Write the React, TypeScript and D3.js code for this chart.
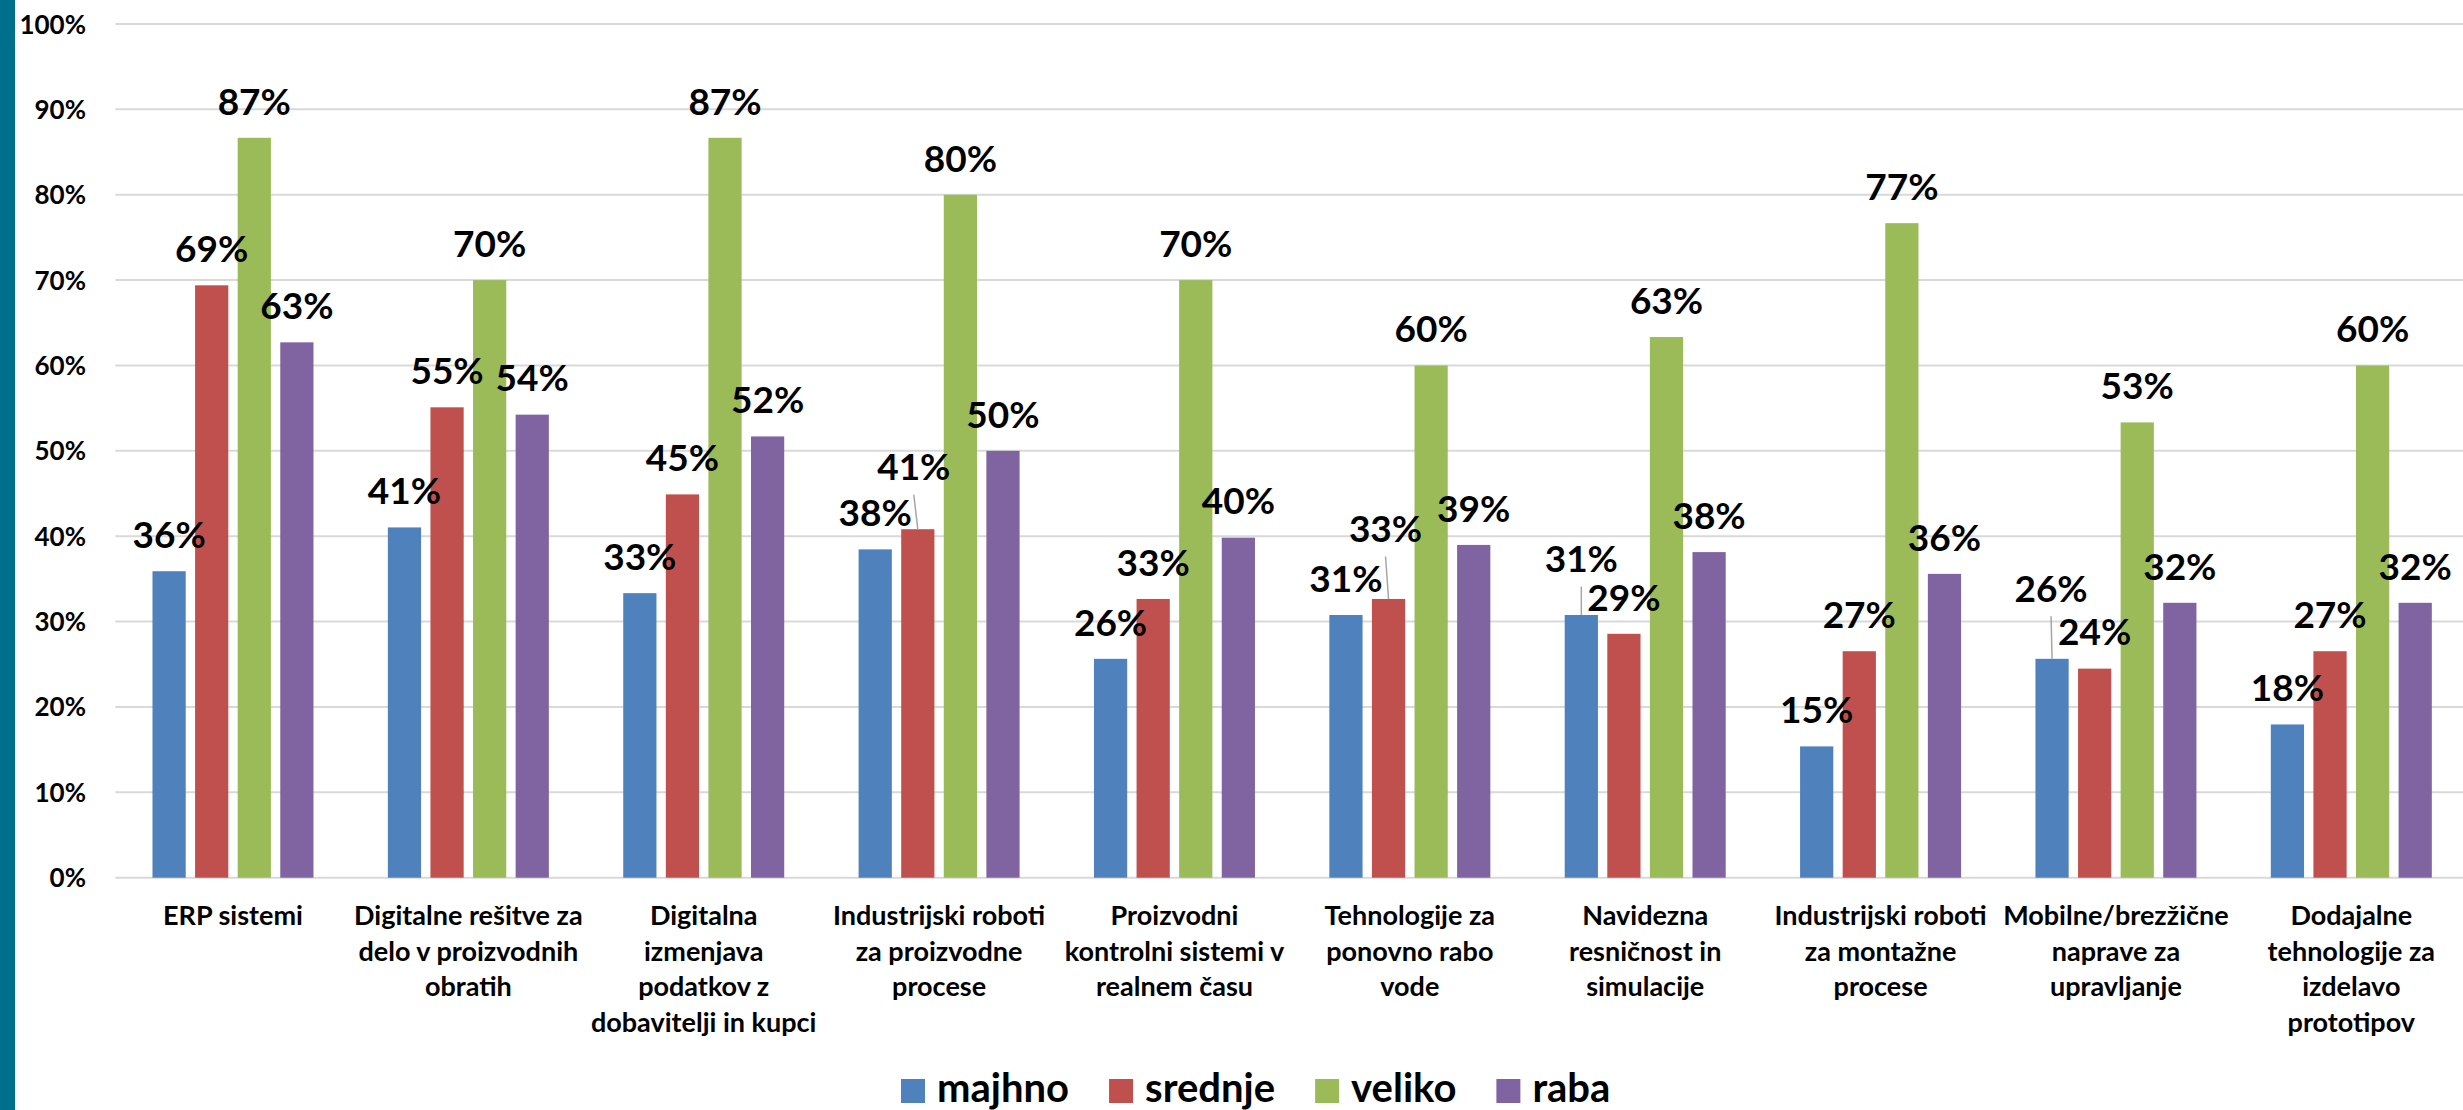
import React from "react";
import * as d3 from "d3";

const categories: string[][] = [
  ["ERP sistemi"],
  ["Digitalne rešitve za", "delo v proizvodnih", "obratih"],
  ["Digitalna", "izmenjava", "podatkov z", "dobavitelji in kupci"],
  ["Industrijski roboti", "za proizvodne", "procese"],
  ["Proizvodni", "kontrolni sistemi v", "realnem času"],
  ["Tehnologije za", "ponovno rabo", "vode"],
  ["Navidezna", "resničnost in", "simulacije"],
  ["Industrijski roboti", "za montažne", "procese"],
  ["Mobilne/brezžične", "naprave za", "upravljanje"],
  ["Dodajalne", "tehnologije za", "izdelavo", "prototipov"],
];

const seriesNames = ["majhno", "srednje", "veliko", "raba"];
const seriesColors = ["#4F81BD", "#C0504D", "#9BBB59", "#8064A2"];

const majhno = [35.9, 41.03, 33.33, 38.46, 25.64, 30.77, 30.77, 15.38, 25.64, 17.95];
const srednje = [69.39, 55.1, 44.9, 40.82, 32.65, 32.65, 28.57, 26.53, 24.49, 26.53];
const veliko = [86.67, 70.0, 86.67, 80.0, 70.0, 60.0, 63.33, 76.67, 53.33, 60.0];
const raba = [62.71, 54.24, 51.69, 50.0, 39.83, 38.98, 38.14, 35.59, 32.2, 32.2];

const yTicks = [0, 10, 20, 30, 40, 50, 60, 70, 80, 90, 100];

// label nudges (category index, series index, dx, dy) for labels moved with leader lines
const labelNudges: [number, number, number, number][] = [
  [3, 1, -4, -26],
  [5, 1, -3, -34],
  [6, 0, 0, -20],
  [8, 0, -1, -34],
];

const FONT = "Lato, 'Open Sans', 'DejaVu Sans', sans-serif";

function measure(text: string, font: string): number {
  const c = document.createElement("canvas");
  const ctx = c.getContext("2d");
  if (!ctx) return text.length * 20;
  ctx.font = font;
  return ctx.measureText(text).width;
}

export default function App() {
  const W = 2463;
  const H = 1110;
  const series = [majhno, srednje, veliko, raba];
  const keys = categories.map((c) => c.join(" "));

  const x0 = d3
    .scaleBand<string>()
    .domain(keys)
    .range([115.3, 2469])
    .paddingInner(0.316)
    .paddingOuter(0.158);
  const x1 = d3
    .scaleBand<string>()
    .domain(seriesNames)
    .range([0, x0.bandwidth()])
    .paddingInner(0.22)
    .paddingOuter(0);
  const y = d3.scaleLinear().domain([0, 100]).range([877.7, 24]);

  // legend layout
  const legendFont = `bold 40px ${FONT}`;
  let lx = 901;
  const legendItems = seriesNames.map((name, i) => {
    const item = { name, color: seriesColors[i], x: lx };
    lx += 36 + measure(name, legendFont) + 40;
    return item;
  });

  return (
    <div style={{ position: "absolute", left: 0, top: 0 }}>
      <svg width={W} height={H} style={{ display: "block", background: "#fff" }}>
        <rect x={0} y={0} width={W} height={H} fill="#ffffff" />
        <rect x={0} y={0} width={15} height={H} fill="#006F8E" />

        {/* gridlines */}
        {yTicks.map((t) => (
          <line
            key={"g" + t}
            x1={115.3}
            x2={W}
            y1={y(t)}
            y2={y(t)}
            stroke="#D9D9D9"
            strokeWidth={2}
          />
        ))}
        {/* y tick labels */}
        {yTicks.map((t) => (
          <text
            key={"t" + t}
            x={86}
            y={y(t) + 9.5}
            textAnchor="end"
            fontFamily={FONT}
            fontWeight="bold"
            fontSize={26}
            fill="#000"
          >
            {t + "%"}
          </text>
        ))}

        {/* bars */}
        {keys.map((k, ci) => (
          <g key={"c" + ci} transform={`translate(${x0(k)},0)`}>
            {series.map((vals, si) => (
              <rect
                key={"b" + si}
                x={x1(seriesNames[si])}
                y={y(vals[ci])}
                width={x1.bandwidth()}
                height={y(0) - y(vals[ci])}
                fill={seriesColors[si]}
              />
            ))}
          </g>
        ))}

        {/* data labels */}
        {keys.map((k, ci) =>
          series.map((vals, si) => {
            const cx = (x0(k) as number) + (x1(seriesNames[si]) as number) + x1.bandwidth() / 2;
            const top = y(vals[ci]);
            const nudge = labelNudges.find((n) => n[0] === ci && n[1] === si);
            const dx = nudge ? nudge[2] : 0;
            const dy = nudge ? nudge[3] : 0;
            const centerY = top - 36.5 + dy;
            return (
              <g key={`l${ci}-${si}`}>
                {nudge && (
                  <line
                    x1={cx + dx}
                    y1={centerY + 28}
                    x2={cx}
                    y2={top}
                    stroke="#A6A6A6"
                    strokeWidth={1.5}
                  />
                )}
                <text
                  x={cx + dx}
                  y={centerY + 13.3}
                  textAnchor="middle"
                  fontFamily={FONT}
                  fontWeight="bold"
                  fontSize={37}
                  fill="#000"
                >
                  {Math.round(vals[ci]) + "%"}
                </text>
              </g>
            );
          })
        )}

        {/* category labels */}
        {categories.map((lines, ci) => {
          const cx = (x0(keys[ci]) as number) + x0.bandwidth() / 2;
          return (
            <text
              key={"x" + ci}
              textAnchor="middle"
              fontFamily={FONT}
              fontWeight="bold"
              fontSize={27}
              fill="#000"
            >
              {lines.map((ln, li) => (
                <tspan key={li} x={cx} y={925 + li * 35.6}>
                  {ln}
                </tspan>
              ))}
            </text>
          );
        })}

        {/* legend */}
        {legendItems.map((it) => (
          <g key={"lg" + it.name}>
            <rect x={it.x} y={1079} width={24} height={24} fill={it.color} />
            <text
              x={it.x + 36}
              y={1102}
              fontFamily={FONT}
              fontWeight="bold"
              fontSize={40}
              fill="#000"
            >
              {it.name}
            </text>
          </g>
        ))}
      </svg>
    </div>
  );
}
